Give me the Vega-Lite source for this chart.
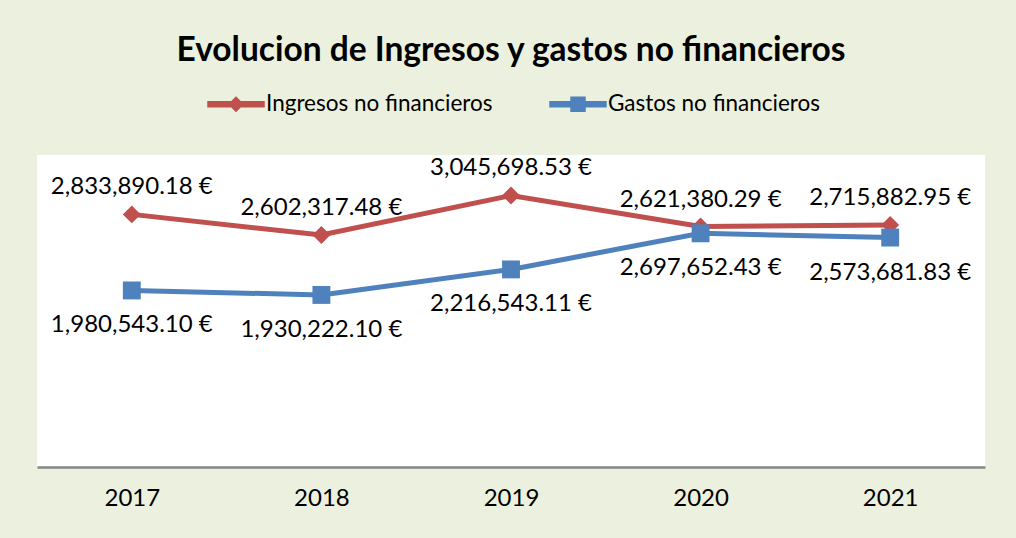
{
  "$schema": "https://vega.github.io/schema/vega-lite/v6.json",
  "width": 948,
  "height": 312,
  "autosize": {"type": "none"},
  "padding": {"left": 37, "top": 155, "right": 31, "bottom": 71},
  "background": "#EBF1DE",
  "config": {
    "view": {"fill": "white", "stroke": null},
    "font": "Lato"
  },
  "title": {
    "text": "Evolucion de Ingresos y gastos no financieros",
    "fontSize": 33.5,
    "fontWeight": "bold",
    "font": "Lato",
    "color": "black",
    "anchor": "middle",
    "offset": 7
  },
  "data": {
    "values": [
      {"year": "2017", "serie": "Ingresos no financieros", "value": 2833890.18, "label": "2,833,890.18 €"},
      {"year": "2018", "serie": "Ingresos no financieros", "value": 2602317.48, "label": "2,602,317.48 €"},
      {"year": "2019", "serie": "Ingresos no financieros", "value": 3045698.53, "label": "3,045,698.53 €"},
      {"year": "2020", "serie": "Ingresos no financieros", "value": 2697652.43, "label": "2,621,380.29 €"},
      {"year": "2021", "serie": "Ingresos no financieros", "value": 2715882.95, "label": "2,715,882.95 €"},
      {"year": "2017", "serie": "Gastos no financieros", "value": 1980543.10, "label": "1,980,543.10 €"},
      {"year": "2018", "serie": "Gastos no financieros", "value": 1930222.10, "label": "1,930,222.10 €"},
      {"year": "2019", "serie": "Gastos no financieros", "value": 2216543.11, "label": "2,216,543.11 €"},
      {"year": "2020", "serie": "Gastos no financieros", "value": 2621380.29, "label": "2,697,652.43 €"},
      {"year": "2021", "serie": "Gastos no financieros", "value": 2573681.83, "label": "2,573,681.83 €"}
    ]
  },
  "encoding": {
    "x": {
      "field": "year",
      "type": "ordinal",
      "scale": {"type": "point", "padding": 0.5},
      "axis": {
        "title": null,
        "labelAngle": 0,
        "ticks": false,
        "grid": false,
        "domainColor": "#868686",
        "domainWidth": 2.5,
        "labelFontSize": 24,
        "labelFont": "Lato",
        "labelColor": "black",
        "labelPadding": 19
      }
    },
    "y": {
      "field": "value",
      "type": "quantitative",
      "scale": {"domain": [0, 3500000]},
      "axis": null
    }
  },
  "layer": [
    {
      "mark": {"type": "line", "strokeWidth": 5},
      "encoding": {
        "color": {
          "field": "serie",
          "type": "nominal",
          "scale": {"domain": ["Ingresos no financieros", "Gastos no financieros"], "range": ["#C0504D", "#4F81BD"]},
          "legend": {
            "orient": "none",
            "legendX": 170,
            "legendY": -80,
            "direction": "horizontal",
            "title": null,
            "symbolSize": 3136,
            "labelFontSize": 22.5,
            "labelFont": "Lato",
            "labelColor": "black",
            "labelLimit": 0,
            "labelOffset": 1,
            "columnPadding": 54,
            "encode": {
              "symbols": {
                "update": {
                  "shape": {"signal": "datum.value == 'Ingresos no financieros' ? 'M-1,-0.09H-0.16L0,-0.25L0.16,-0.09H1V0.09H0.16L0,0.25L-0.16,0.09H-1Z' : 'M-1,-0.09H-0.25V-0.25H0.25V-0.09H1V0.09H0.25V0.25H-0.25V0.09H-1Z'"},
                  "fill": {"scale": "color", "field": "value"},
                  "stroke": {"value": "transparent"},
                  "size": {"value": 3136},
                  "opacity": {"value": 1}
                }
              }
            }
          }
        }
      }
    },
    {
      "transform": [{"filter": "datum.serie == 'Ingresos no financieros'"}],
      "mark": {"type": "point", "filled": true, "opacity": 1, "size": 320, "shape": "diamond"},
      "encoding": {"color": {"field": "serie", "type": "nominal"}}
    },
    {
      "transform": [{"filter": "datum.serie == 'Gastos no financieros'"}],
      "mark": {"type": "point", "filled": true, "opacity": 1, "size": 320, "shape": "square"},
      "encoding": {"color": {"field": "serie", "type": "nominal"}}
    },
    {
      "transform": [{"filter": "datum.serie == 'Ingresos no financieros'"}],
      "mark": {"type": "text", "fontSize": 24, "font": "Lato", "color": "black", "dy": -27, "baseline": "middle"},
      "encoding": {"text": {"field": "label"}}
    },
    {
      "transform": [{"filter": "datum.serie == 'Gastos no financieros'"}],
      "mark": {"type": "text", "fontSize": 24, "font": "Lato", "color": "black", "dy": 35, "baseline": "middle"},
      "encoding": {"text": {"field": "label"}}
    }
  ]
}
